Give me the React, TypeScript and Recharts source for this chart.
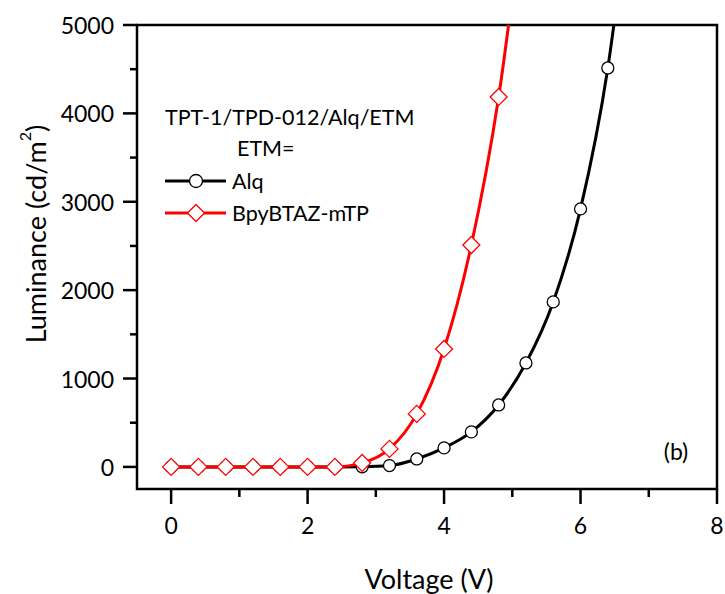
import React from 'react'
import { LineChart, Line, XAxis, YAxis, ReferenceArea } from 'recharts'

// Alq device
const alqVoltage = [0, 0.4, 0.8, 1.2, 1.6, 2.0, 2.4, 2.8, 3.2, 3.6, 4.0, 4.4, 4.8, 5.2, 5.6, 6.0, 6.4, 6.8]
const alqLuminance = [0, 0, 0, 0, 0, 0, 0, 2, 15, 90, 215, 396, 701, 1176, 1867, 2919, 4514, 7000]

// BpyBTAZ-mTP device
const bpyVoltage = [0, 0.4, 0.8, 1.2, 1.6, 2.0, 2.4, 2.8, 3.2, 3.6, 4.0, 4.4, 4.8, 5.2]
const bpyLuminance = [0, 0, 0, 0, 0, 0, 0, 45, 204, 600, 1335, 2511, 4186, 6600]

const xTicks = [0, 1, 2, 3, 4, 5, 6, 7, 8]
const yTicks = [0, 500, 1000, 1500, 2000, 2500, 3000, 3500, 4000, 4500, 5000]

const alqData = alqVoltage.map((v, i) => ({ v, lum: alqLuminance[i] }))
const bpyData = bpyVoltage.map((v, i) => ({ v, lum: bpyLuminance[i] }))

const FONT = 'Lato, "Open Sans", sans-serif'

const XTick = (props: any) => {
  const { x, y, payload } = props
  const major = payload.value % 2 === 0
  return (
    <g>
      <line x1={x} y1={y} x2={x} y2={y + (major ? 15 : 8)} stroke="#000" strokeWidth={2.5} />
      {major && (
        <text x={x} y={y + 36} textAnchor="middle" dominantBaseline="central" fontFamily={FONT} fontSize={23} fill="#000">
          {payload.value}
        </text>
      )}
    </g>
  )
}

const YTick = (props: any) => {
  const { x, y, payload } = props
  const major = payload.value % 1000 === 0
  return (
    <g>
      <line x1={x} y1={y} x2={x - (major ? 14 : 7)} y2={y} stroke="#000" strokeWidth={2.5} />
      {major && (
        <text x={x - 23} y={y} textAnchor="end" dominantBaseline="central" fontFamily={FONT} fontSize={23} fill="#000">
          {payload.value}
        </text>
      )}
    </g>
  )
}

const CircleDot = (props: any) => {
  const { cx, cy } = props
  if (cx == null || cy == null) return null
  return <circle cx={cx} cy={cy} r={6} fill="#fff" stroke="#000" strokeWidth={1.3} />
}

const DiamondDot = (props: any) => {
  const { cx, cy } = props
  if (cx == null || cy == null) return null
  const d = 8.5
  return (
    <path
      d={`M${cx},${cy - d}L${cx + d},${cy}L${cx},${cy + d}L${cx - d},${cy}Z`}
      fill="#fff"
      stroke="#ff0000"
      strokeWidth={1.3}
    />
  )
}

export default function App() {
  return (
    <div style={{ position: 'absolute', left: 0, top: 0, width: 725, height: 594, background: '#fff' }}>
      <LineChart width={725} height={594} margin={{ top: 25, right: 8, left: 0, bottom: 0 }}>
        <XAxis
          type="number"
          dataKey="v"
          domain={[-0.5, 8]}
          ticks={xTicks}
          allowDataOverflow
          height={105}
          axisLine={false}
          tickLine={false}
          tickSize={0}
          tickMargin={0}
          tick={<XTick />}
          interval={0}
        />
        <YAxis
          type="number"
          dataKey="lum"
          domain={[-250, 5000]}
          ticks={yTicks}
          allowDataOverflow
          width={137}
          axisLine={false}
          tickLine={false}
          tickSize={0}
          tickMargin={0}
          tick={<YTick />}
          interval={0}
        />
        <ReferenceArea x1={-0.5} x2={8} y1={-250} y2={5000} fill="none" stroke="#000" strokeWidth={2.5} />
        <Line
          data={alqData}
          dataKey="lum"
          type="monotone"
          stroke="#000"
          strokeWidth={3}
          dot={<CircleDot />}
          activeDot={false}
          isAnimationActive={false}
        />
        <Line
          data={bpyData}
          dataKey="lum"
          type="monotone"
          stroke="#ff0000"
          strokeWidth={3}
          dot={<DiamondDot />}
          activeDot={false}
          isAnimationActive={false}
        />
      </LineChart>
      <svg width={725} height={594} style={{ position: 'absolute', left: 0, top: 0, pointerEvents: 'none' }}>
        <g fontFamily={FONT} fill="#000">
          <text x={429} y={578} textAnchor="middle" dominantBaseline="central" fontSize={27}>
            Voltage (V)
          </text>
          <text transform="translate(35,234) rotate(-90)" textAnchor="middle" dominantBaseline="central" fontSize={27}>
            <tspan>Luminance (cd/m</tspan>
            <tspan fontSize={16} dy={-11}>2</tspan>
            <tspan dy={11}>)</tspan>
          </text>
          <text x={165} y={117} dominantBaseline="central" fontSize={21.5}>
            TPT-1/TPD-012/Alq/ETM
          </text>
          <text x={237} y={148} dominantBaseline="central" fontSize={21.5}>
            ETM=
          </text>
          <line x1={165} y1={181} x2={226} y2={181} stroke="#000" strokeWidth={3} />
          <circle cx={196} cy={181} r={6.5} fill="#fff" stroke="#000" strokeWidth={1.3} />
          <text x={232} y={181} dominantBaseline="central" fontSize={21.5}>
            Alq
          </text>
          <line x1={165} y1={213} x2={226} y2={213} stroke="#ff0000" strokeWidth={3} />
          <path d="M196,204.5L204.5,213L196,221.5L187.5,213Z" fill="#fff" stroke="#ff0000" strokeWidth={1.3} />
          <text x={232} y={213} dominantBaseline="central" fontSize={21.5}>
            BpyBTAZ-mTP
          </text>
          <text x={676} y={451} textAnchor="middle" dominantBaseline="central" fontSize={23}>
            (b)
          </text>
        </g>
      </svg>
    </div>
  )
}
